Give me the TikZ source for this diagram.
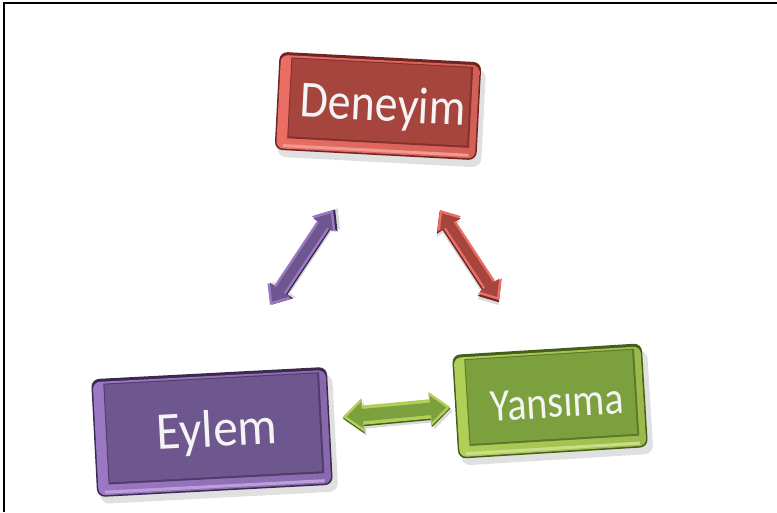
\documentclass[tikz,border=0pt]{standalone}
\usepackage{graphicx}
\usepackage{fontspec}
\setmainfont{Carlito}
\usetikzlibrary{shapes.arrows}

\definecolor{redface}{RGB}{166,68,62}
\definecolor{redbevel}{RGB}{234,110,100}
\definecolor{rededge}{RGB}{110,36,32}
\definecolor{purpface}{RGB}{110,86,142}
\definecolor{purpbevel}{RGB}{156,120,196}
\definecolor{purpedge}{RGB}{58,42,80}
\definecolor{grnface}{RGB}{124,160,62}
\definecolor{grnbevel}{RGB}{176,208,88}
\definecolor{grnedge}{RGB}{70,94,28}
\definecolor{labeltext}{RGB}{244,244,244}

\tikzset{
  frameline/.style={line width=1.1pt, black},
  boxlabel/.style={inner sep=0pt, text depth=0pt, text=labeltext, transform shape},
  fatarrow/.style={double arrow, minimum width=28pt, inner sep=7pt,
    double arrow head extend=7pt, double arrow tip angle=80, draw=none},
}

% #1 name, #2 x, #3 y, #4 rotation, #5 width, #6 height,
% #7 face, #8 bevel, #9 edge
\newcommand\bevelbox[9]{%
  \begin{scope}[shift={(#2,#3)}, rotate=#4]
    \fill[black!12, rounded corners=9pt]
      (-#5/2+3,-#6/2+7) rectangle (#5/2+5,#6/2+7);
    \fill[#9, rounded corners=8pt]
      (-#5/2,-#6/2) rectangle (#5/2,#6/2);
    \shade[left color=#8, right color=#8!80!#9, rounded corners=7pt]
      (-#5/2+1.5,-#6/2+3) rectangle (#5/2-1.5,#6/2-1.5);
    \fill[#8!70!white]
      (-#5/2+8,#6/2-6) rectangle (#5/2-8,#6/2-3);
    \fill[#9!60!#7]
      (-#5/2+12,-#6/2+5) rectangle (#5/2-8,#6/2-12);
    \fill[#7]
      (-#5/2+13,-#6/2+6) rectangle (#5/2-10,#6/2-14);
    \coordinate (#1) at (0,0);
  \end{scope}}

\begin{document}
\begin{tikzpicture}[x=1pt, y=-1pt]
  \useasboundingbox (0,0) rectangle (777,512);
  \fill[white] (0,0) rectangle (777,512);
  \draw[frameline] (4,512) -- (4,3) -- (777,3);

  % the three boxes
  \bevelbox{den}{378}{106}{-3}{202}{98}{redface}{redbevel}{rededge}
  \bevelbox{eyl}{212}{432}{3}{236}{118}{purpface}{purpbevel}{purpedge}
  \bevelbox{yan}{550}{401}{3.5}{190}{104}{grnface}{grnbevel}{grnedge}

  \begin{scope}[shift={(den)}, rotate=-3]
    \node[boxlabel, text height=33pt, font=\fontsize{52}{52}\selectfont]
      (denlabel) at (5,-1.5) {\scalebox{0.88}[1]{Deneyim}};
  \end{scope}
  \begin{scope}[shift={(eyl)}, rotate=3]
    \node[boxlabel, text height=34pt, font=\fontsize{53}{53}\selectfont]
      (eyllabel) at (5,-2.5) {\scalebox{0.93}[1]{Eylem}};
  \end{scope}
  \begin{scope}[shift={(yan)}, rotate=3.5]
    \node[boxlabel, text height=29.5pt, font=\fontsize{46}{46}\selectfont]
      (yanlabel) at (7,2) {\scalebox{0.87}[1]{Yansıma}};
  \end{scope}

  % double arrows between the boxes
  \coordinate (pa) at (301.5,257.5);
  \coordinate (ra) at (469.5,255);
  \coordinate (ga) at (396.5,412);

  \node[fatarrow, minimum height=114pt, rotate=56.4, fill=black!15,
    xshift=4pt, yshift=-3pt] at (pa) {};
  \node[fatarrow, minimum height=114pt, rotate=56.4, fill=purpedge,
    xshift=1.5pt, yshift=-1.5pt] at (pa) {};
  \node[fatarrow, minimum height=114pt, rotate=56.4, fill=purpbevel] at (pa) {};
  \node[fatarrow, minimum height=106pt, rotate=56.4, inner sep=4.5pt,
    minimum width=20pt, fill=purpface] (purparrow) at (pa) {};

  \node[fatarrow, minimum height=108pt, rotate=-56.7, fill=black!15,
    xshift=4pt, yshift=-3pt] at (ra) {};
  \node[fatarrow, minimum height=108pt, rotate=-56.7, fill=rededge,
    xshift=1.5pt, yshift=-1.5pt] at (ra) {};
  \node[fatarrow, minimum height=108pt, rotate=-56.7, fill=redbevel] at (ra) {};
  \node[fatarrow, minimum height=100pt, rotate=-56.7, inner sep=4.5pt,
    minimum width=20pt, fill=redface] (redarrow) at (ra) {};

  \node[fatarrow, minimum height=108pt, minimum width=34pt, inner sep=9pt,
    rotate=5.3, fill=black!15, xshift=2pt, yshift=-4pt] at (ga) {};
  \node[fatarrow, minimum height=108pt, minimum width=34pt, inner sep=9pt,
    rotate=5.3, fill=grnedge, yshift=-1.5pt] at (ga) {};
  \node[fatarrow, minimum height=108pt, minimum width=34pt, inner sep=9pt,
    rotate=5.3, fill=grnbevel] at (ga) {};
  \node[fatarrow, minimum height=100pt, minimum width=26pt, inner sep=6pt,
    rotate=5.3, fill=grnface] (grnarrow) at (ga) {};
\end{tikzpicture}
\end{document}
